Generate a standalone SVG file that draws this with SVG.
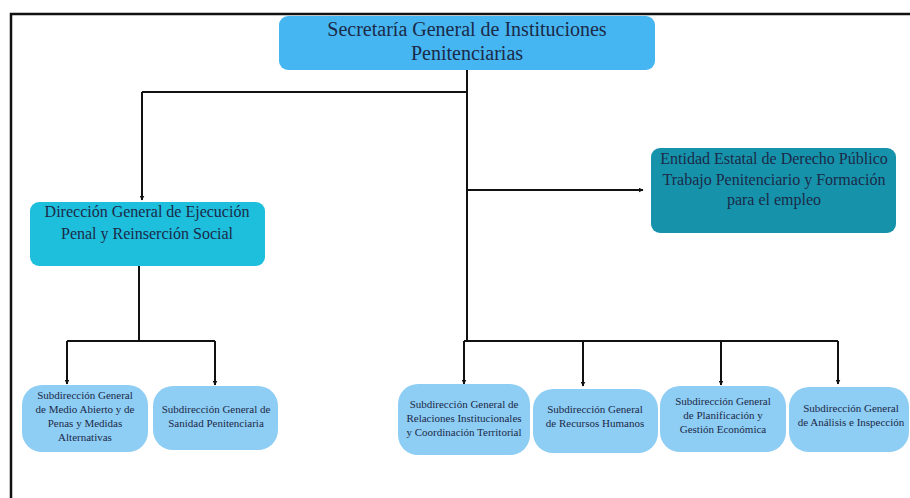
<svg xmlns="http://www.w3.org/2000/svg" width="910" height="498" viewBox="0 0 910 498">
<defs>
<marker id="ah" viewBox="0 0 10 10" refX="9" refY="5" markerWidth="5" markerHeight="5" orient="auto" markerUnits="userSpaceOnUse">
<path d="M0,0 L10,5 L0,10 z" fill="#111"/>
</marker>
<style>
.ln{stroke:#111;stroke-width:2;fill:none}
.ar{stroke:#111;stroke-width:2;fill:none;marker-end:url(#ah)}
.t{font-family:"Liberation Serif","Times New Roman",serif;fill:#1b2a48;text-anchor:middle}
.big{font-size:20px}
.mid{font-size:16px}
.sm{font-size:11px}
.top{fill:#46b6f2}
.dir{fill:#1ebedd}
.ent{fill:#1693ab}
.sub{fill:#8ecdf4}
</style>
</defs>
<rect width="910" height="498" fill="#fff"/>
<g id="frame">
<path d="M11,498 V14 H910" stroke="#111" stroke-width="2.5" fill="none"/>
</g>
<g id="connectors">
<path class="ln" d="M467,69 V342"/>
<path class="ln" d="M467,92 H142"/>
<path class="ar" d="M142,92 V200"/>
<path class="ar" d="M467,190 H643"/>
<path class="ln" d="M139,266 V341"/>
<path class="ln" d="M67,341 H215"/>
<path class="ar" d="M67,341 V384"/>
<path class="ar" d="M215,341 V385"/>
<path class="ln" d="M464,341 H838"/>
<path class="ar" d="M464,341 V384"/>
<path class="ar" d="M583,341 V386"/>
<path class="ar" d="M721,341 V385"/>
<path class="ar" d="M838,341 V384"/>
</g>
<g id="n-secretaria">
<rect class="top" x="279" y="16" width="376" height="54" rx="9"/>
<text class="t big" x="467" y="36">Secretaría General de Instituciones</text>
<text class="t big" x="467" y="60">Penitenciarias</text>
</g>
<g id="n-direccion">
<rect class="dir" x="30" y="202" width="235" height="64" rx="9"/>
<text class="t mid" x="147" y="217">Dirección General de Ejecución</text>
<text class="t mid" x="147" y="239">Penal y Reinserción Social</text>
</g>
<g id="n-entidad">
<rect class="ent" x="651" y="148" width="245" height="85" rx="9"/>
<text class="t mid" x="774" y="164">Entidad Estatal de Derecho Público</text>
<text class="t mid" x="774" y="185">Trabajo Penitenciario y Formación</text>
<text class="t mid" x="774" y="205">para el empleo</text>
</g>
<g id="n-medio">
<rect class="sub" x="22" y="385" width="126" height="67" rx="20"/>
<text class="t sm" x="85" y="399">Subdirección General</text>
<text class="t sm" x="85" y="413">de Medio Abierto y de</text>
<text class="t sm" x="85" y="427">Penas y Medidas</text>
<text class="t sm" x="85" y="441">Alternativas</text>
</g>
<g id="n-sanidad">
<rect class="sub" x="153" y="386" width="125" height="64" rx="20"/>
<text class="t sm" x="216" y="413">Subdirección General de</text>
<text class="t sm" x="216" y="427">Sanidad Penitenciaria</text>
</g>
<g id="n-relaciones">
<rect class="sub" x="398" y="384" width="132" height="71" rx="20"/>
<text class="t sm" x="464" y="408">Subdirección General de</text>
<text class="t sm" x="464" y="422">Relaciones Institucionales</text>
<text class="t sm" x="464" y="436">y Coordinación Territorial</text>
</g>
<g id="n-rrhh">
<rect class="sub" x="533" y="389" width="125" height="64" rx="20"/>
<text class="t sm" x="595" y="413">Subdirección General</text>
<text class="t sm" x="595" y="427">de Recursos Humanos</text>
</g>
<g id="n-planificacion">
<rect class="sub" x="660" y="386" width="126" height="66" rx="20"/>
<text class="t sm" x="723" y="405">Subdirección General</text>
<text class="t sm" x="723" y="419">de Planificación y</text>
<text class="t sm" x="723" y="433">Gestión Económica</text>
</g>
<g id="n-analisis">
<rect class="sub" x="789" y="387" width="120" height="65" rx="20"/>
<text class="t sm" x="851" y="412">Subdirección General</text>
<text class="t sm" x="851" y="426">de Análisis e Inspección</text>
</g>
</svg>
